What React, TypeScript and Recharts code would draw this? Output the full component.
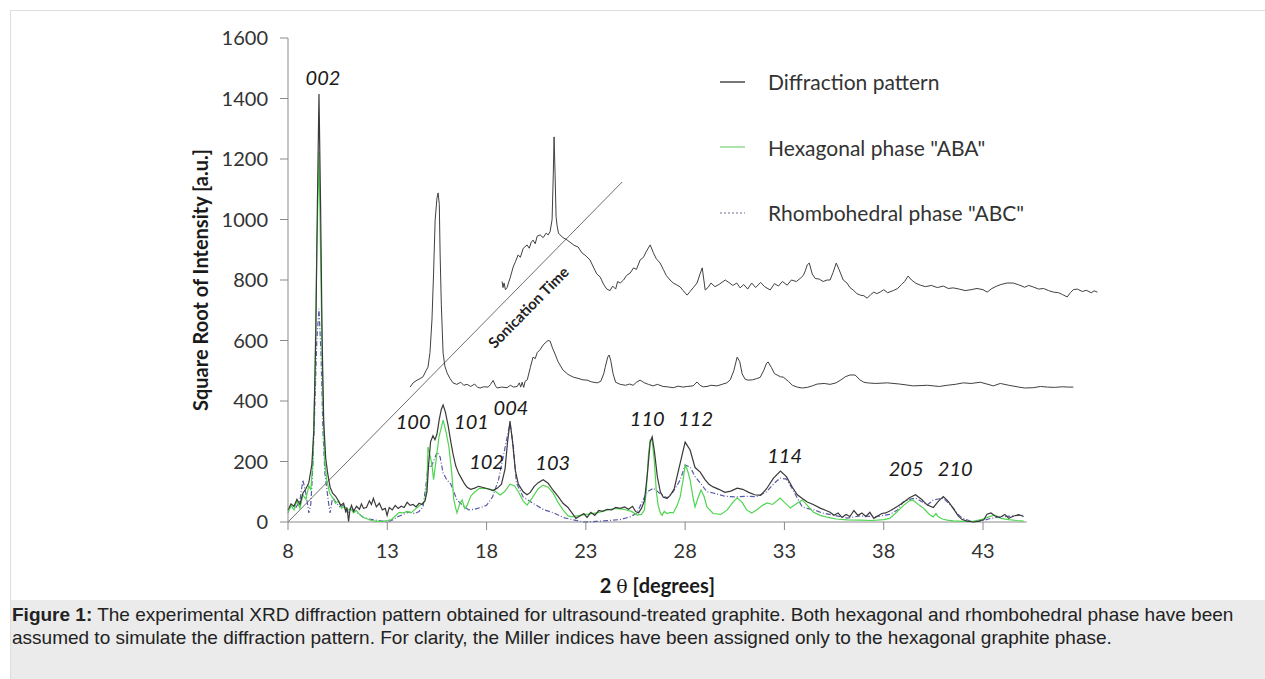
import React from 'react';
import { ComposedChart, Line, XAxis, YAxis, ReferenceLine, ReferenceDot } from 'recharts';

const FONT = 'Lato, "Open Sans", sans-serif';

// measured pattern of the treated graphite (2θ in degrees, sqrt intensity)
const patternTheta = [8.0, 8.15, 8.3, 8.45, 8.6, 8.75, 8.9, 9.05, 9.2, 9.3, 9.4, 9.48, 9.56, 9.64, 9.72, 9.8, 9.9, 10.0, 10.12, 10.25, 10.4, 10.52, 10.65, 10.8, 10.9, 10.97, 11.05, 11.12, 11.2, 11.3, 11.45, 11.6, 11.7, 11.8, 11.95, 12.1, 12.2, 12.3, 12.45, 12.6, 12.75, 12.9, 12.99, 13.1, 13.25, 13.4, 13.55, 13.7, 13.85, 14.0, 14.15, 14.3, 14.45, 14.6, 14.75, 14.9, 15.0, 15.08, 15.18, 15.3, 15.4, 15.5, 15.62, 15.72, 15.81, 15.92, 16.06, 16.2, 16.31, 16.45, 16.6, 16.77, 16.9, 17.02, 17.2, 17.4, 17.6, 17.82, 18.05, 18.33, 18.55, 18.75, 18.93, 19.05, 19.18, 19.3, 19.45, 19.6, 19.84, 20.04, 20.2, 20.4, 20.6, 20.85, 21.1, 21.35, 21.6, 21.85, 22.1, 22.3, 22.5, 22.7, 22.9, 23.06, 23.25, 23.45, 23.65, 23.85, 24.07, 24.3, 24.5, 24.73, 24.95, 25.15, 25.35, 25.5, 25.65, 25.8, 25.95, 26.1, 26.24, 26.34, 26.45, 26.6, 26.75, 26.9, 27.09, 27.25, 27.45, 27.75, 28.0, 28.25, 28.5, 28.76, 29.0, 29.2, 29.41, 29.7, 30.0, 30.3, 30.62, 30.9, 31.2, 31.5, 31.8, 32.1, 32.45, 32.8, 33.1, 33.4, 33.65, 33.9, 34.15, 34.45, 34.8, 35.1, 35.3, 35.5, 35.7, 35.9, 36.1, 36.3, 36.5, 36.7, 36.9, 37.1, 37.3, 37.5, 37.7, 37.9, 38.1, 38.35, 38.7, 39.0, 39.3, 39.6, 39.9, 40.2, 40.5, 40.75, 41.0, 41.25, 41.5, 41.75, 41.95, 42.2, 42.5, 42.8, 43.05, 43.2, 43.4, 43.6, 43.85, 44.1, 44.3, 44.55, 44.8, 45.05];
const patternInt = [40, 60, 52, 75, 58, 95, 110, 130, 190, 300, 620, 1050, 1415, 1050, 600, 330, 210, 160, 115, 95, 85, 72, 55, 62, 35, 48, 2, 40, 55, 35, 52, 42, 60, 45, 48, 70, 58, 78, 50, 62, 40, 45, 22, 48, 40, 55, 45, 52, 48, 65, 55, 58, 50, 62, 58, 70, 100, 190, 265, 285, 272, 290, 340, 372, 387, 365, 320, 265, 225, 185, 160, 140, 125, 115, 108, 112, 118, 114, 110, 104, 112, 125, 175, 260, 334, 270, 170, 125, 100, 90, 98, 118, 130, 140, 128, 105, 85, 62, 48, 30, 12, 20, 28, 15, 32, 22, 38, 35, 42, 40, 48, 45, 50, 42, 52, 35, 30, 45, 70, 160, 265, 282, 235, 150, 100, 82, 78, 88, 110, 195, 264, 238, 180, 165, 140, 125, 116, 108, 98, 102, 112, 108, 98, 90, 88, 110, 145, 168, 150, 115, 90, 78, 66, 58, 46, 38, 32, 22, 30, 15, 25, 18, 38, 22, 30, 18, 32, 12, 20, 28, 30, 38, 52, 65, 80, 90, 75, 56, 48, 68, 84, 68, 45, 20, 8, 3, 0, 3, 8, 26, 30, 20, 15, 25, 12, 20, 24, 18];

// hexagonal "ABA" simulation
const hexTheta = [8.0, 8.15, 8.3, 8.45, 8.6, 8.75, 8.9, 9.05, 9.15, 9.25, 9.35, 9.45, 9.56, 9.65, 9.75, 9.85, 9.95, 10.1, 10.25, 10.4, 10.55, 10.7, 10.85, 11.0, 11.15, 11.3, 11.45, 11.6, 11.8, 12.0, 12.2, 12.4, 12.6, 12.8, 13.0, 13.2, 13.4, 13.6, 13.8, 14.0, 14.2, 14.45, 14.7, 14.9, 15.0, 15.05, 15.15, 15.25, 15.33, 15.45, 15.6, 15.81, 15.95, 16.1, 16.25, 16.35, 16.45, 16.51, 16.65, 16.77, 16.9, 17.02, 17.2, 17.35, 17.6, 17.9, 18.2, 18.4, 18.68, 18.9, 19.18, 19.4, 19.6, 19.84, 20.04, 20.3, 20.6, 20.85, 21.1, 21.35, 21.6, 21.85, 22.1, 22.3, 22.7, 23.0, 23.57, 24.1, 24.5, 24.9, 25.3, 25.58, 25.8, 25.95, 26.05, 26.15, 26.24, 26.34, 26.45, 26.55, 26.64, 26.75, 26.84, 26.95, 27.09, 27.25, 27.4, 27.6, 27.75, 27.9, 28.0, 28.1, 28.25, 28.4, 28.5, 28.65, 28.8, 28.95, 29.1, 29.41, 29.8, 30.12, 30.4, 30.62, 30.87, 31.1, 31.35, 31.6, 31.9, 32.13, 32.4, 32.79, 33.0, 33.3, 33.6, 33.9, 34.15, 34.45, 34.8, 35.2, 35.6, 36.16, 36.8, 37.4, 38.0, 38.3, 38.66, 39.0, 39.3, 39.46, 39.8, 40.0, 40.3, 40.49, 40.63, 40.75, 40.95, 41.2, 41.5, 42.0, 42.5, 43.0, 43.3, 43.6, 43.9, 44.3, 44.7, 45.05];
const hexInt = [30, 55, 40, 70, 45, 90, 75, 120, 105, 200, 450, 900, 1225, 850, 420, 200, 140, 95, 80, 62, 70, 45, 52, 38, 45, 30, 38, 25, 15, 10, 5, 3, 2, 3, 5, 8, 20, 32, 30, 35, 30, 45, 58, 70, 130, 248, 220, 190, 140, 200, 280, 337, 300, 250, 160, 73, 45, 30, 60, 73, 45, 55, 85, 96, 110, 112, 108, 104, 89, 100, 125, 120, 100, 70, 56, 80, 110, 122, 115, 96, 65, 40, 20, 17, 22, 25, 30, 40, 45, 42, 35, 23, 25, 40, 110, 220, 271, 268, 200, 100, 55, 30, 22, 35, 28, 32, 30, 55, 83, 140, 188, 175, 139, 80, 50, 80, 106, 85, 50, 28, 25, 40, 65, 80, 65, 40, 30, 40, 55, 63, 58, 79, 65, 46, 60, 73, 55, 33, 22, 15, 10, 7, 6, 5, 8, 12, 33, 55, 70, 73, 55, 46, 25, 17, 28, 17, 10, 6, 4, 2, 2, 10, 17, 23, 12, 8, 5, 3];

// rhombohedral "ABC" simulation
const rhombTheta = [8.0, 8.2, 8.4, 8.6, 8.75, 8.9, 9.05, 9.15, 9.25, 9.35, 9.45, 9.56, 9.66, 9.76, 9.86, 9.96, 10.05, 10.12, 10.25, 10.4, 10.6, 10.8, 11.0, 11.2, 11.4, 11.6, 11.8, 12.1, 12.5, 12.99, 13.3, 13.5, 13.8, 14.1, 14.4, 14.6, 14.8, 15.0, 15.05, 15.2, 15.35, 15.51, 15.66, 15.81, 16.0, 16.2, 16.51, 16.8, 17.1, 17.4, 17.7, 18.0, 18.3, 18.6, 18.85, 19.18, 19.35, 19.5, 19.84, 20.3, 20.9, 21.4, 21.85, 22.36, 22.9, 23.5, 24.2, 24.73, 25.23, 25.58, 25.88, 26.1, 26.4, 26.7, 27.09, 27.4, 27.75, 28.0, 28.25, 28.5, 28.76, 29.1, 29.41, 30.0, 30.6, 31.1, 31.6, 32.1, 32.5, 32.79, 33.1, 33.4, 33.64, 33.9, 34.15, 34.5, 34.9, 35.46, 36.16, 36.8, 37.6, 38.3, 38.7, 38.98, 39.3, 39.6, 39.9, 40.19, 40.5, 40.75, 41.0, 41.3, 41.5, 41.75, 41.95, 42.5, 43.0, 43.4, 43.9, 44.5, 45.0];
const rhombInt = [40, 55, 48, 70, 139, 95, 30, 60, 180, 380, 600, 705, 560, 300, 160, 106, 60, 30, 83, 65, 50, 55, 30, 45, 35, 25, 15, 10, 5, 0, 8, 17, 25, 33, 28, 35, 50, 149, 195, 180, 205, 231, 215, 162, 139, 125, 73, 55, 40, 42, 48, 55, 83, 139, 220, 327, 250, 129, 83, 63, 40, 30, 15, 7, 0, 2, 5, 8, 17, 30, 73, 100, 112, 96, 79, 100, 139, 188, 182, 150, 129, 100, 96, 85, 83, 85, 84, 100, 129, 145, 142, 110, 80, 50, 45, 40, 30, 23, 13, 20, 18, 25, 40, 66, 75, 79, 68, 56, 73, 76, 79, 60, 46, 25, 13, 0, 5, 12, 17, 20, 23];

// patterns after longer sonication, drawn shifted along the time arrow
const midTheta = [14.15, 14.3, 14.5, 14.65, 14.8, 14.95, 15.05, 15.15, 15.25, 15.33, 15.41, 15.5, 15.56, 15.62, 15.66, 15.72, 15.81, 15.9, 16.01, 16.15, 16.31, 16.5, 16.7, 16.85, 17.02, 17.2, 17.4, 17.55, 17.67, 17.85, 18.08, 18.2, 18.33, 18.45, 18.53, 18.75, 19.03, 19.2, 19.35, 19.54, 19.65, 19.72, 19.79, 19.87, 19.94, 20.05, 20.2, 20.34, 20.45, 20.55, 20.7, 20.85, 20.95, 21.1, 21.2, 21.32, 21.45, 21.6, 21.85, 22.1, 22.36, 22.6, 22.85, 23.06, 23.3, 23.57, 23.75, 23.9, 23.97, 24.1, 24.17, 24.25, 24.37, 24.5, 24.73, 25.0, 25.2, 25.38, 25.55, 25.73, 25.95, 26.15, 26.39, 26.6, 26.89, 27.1, 27.4, 27.65, 27.9, 28.1, 28.4, 28.6, 28.75, 28.91, 29.1, 29.3, 29.61, 29.9, 30.1, 30.27, 30.45, 30.62, 30.75, 30.87, 31.02, 31.17, 31.4, 31.6, 31.78, 31.95, 32.1, 32.18, 32.35, 32.5, 32.63, 32.8, 32.94, 33.2, 33.4, 33.64, 33.9, 34.15, 34.4, 34.65, 35.0, 35.3, 35.6, 35.85, 36.06, 36.3, 36.56, 36.8, 37.0, 37.17, 37.6, 38.18, 38.8, 39.49, 40.2, 40.8, 41.2, 41.6, 42.01, 42.4, 42.86, 43.2, 43.52, 43.87, 44.3, 44.8, 45.1, 45.53, 45.9, 46.24, 46.6, 47.0, 47.3, 47.55];
const midInt = [446, 460, 469, 474, 480, 500, 512, 560, 668, 820, 998, 1070, 1088, 1050, 889, 720, 559, 515, 493, 475, 460, 455, 462, 452, 455, 448, 456, 445, 443, 447, 446, 455, 468, 450, 443, 446, 444, 452, 446, 448, 460, 446, 462, 445, 465, 470, 510, 545, 540, 560, 570, 585, 592, 600, 598, 575, 555, 530, 502, 488, 479, 475, 470, 469, 463, 460, 465, 490, 510, 545, 552, 535, 490, 462, 455, 452, 456, 452, 462, 469, 460, 455, 450, 455, 448, 447, 444, 449, 446, 448, 450, 463, 452, 447, 448, 452, 450, 456, 460, 470, 500, 545, 530, 490, 472, 469, 470, 474, 478, 500, 525, 529, 510, 490, 486, 480, 479, 465, 452, 446, 443, 445, 450, 456, 458, 455, 460, 470, 480, 486, 486, 470, 462, 460, 458, 460, 456, 450, 452, 448, 452, 455, 460, 458, 462, 456, 450, 458, 452, 446, 443, 444, 448, 446, 445, 447, 446, 446];

const topTheta = [18.78, 18.83, 18.88, 18.95, 19.03, 19.2, 19.34, 19.45, 19.59, 19.7, 19.85, 20.04, 20.15, 20.25, 20.34, 20.45, 20.55, 20.7, 20.85, 21.0, 21.1, 21.2, 21.3, 21.36, 21.4, 21.45, 21.5, 21.55, 21.62, 21.7, 21.85, 22.06, 22.2, 22.4, 22.61, 22.8, 23.0, 23.21, 23.4, 23.55, 23.72, 23.9, 24.05, 24.22, 24.35, 24.5, 24.6, 24.73, 24.9, 25.05, 25.23, 25.4, 25.55, 25.73, 25.9, 26.05, 26.24, 26.4, 26.55, 26.74, 26.9, 27.05, 27.24, 27.4, 27.55, 27.75, 27.9, 28.1, 28.25, 28.4, 28.6, 28.75, 28.86, 29.01, 29.15, 29.3, 29.5, 29.7, 30.02, 30.2, 30.4, 30.6, 30.77, 30.95, 31.15, 31.35, 31.55, 31.8, 32.0, 32.28, 32.5, 32.7, 32.9, 33.14, 33.35, 33.6, 33.79, 33.95, 34.05, 34.15, 34.25, 34.4, 34.55, 34.75, 34.95, 35.15, 35.3, 35.45, 35.61, 35.75, 35.96, 36.15, 36.3, 36.46, 36.65, 36.82, 37.0, 37.17, 37.35, 37.5, 37.65, 37.82, 38.0, 38.2, 38.48, 38.7, 38.9, 39.05, 39.23, 39.4, 39.6, 39.84, 40.1, 40.4, 40.7, 41.0, 41.25, 41.5, 41.8, 42.1, 42.4, 42.7, 43.0, 43.21, 43.45, 43.7, 43.9, 44.2, 44.52, 44.8, 45.1, 45.3, 45.53, 45.8, 46.05, 46.3, 46.54, 46.8, 47.0, 47.24, 47.4, 47.55, 47.75, 48.0, 48.2, 48.45, 48.6, 48.76];
const topInt = [795, 775, 790, 768, 775, 810, 843, 860, 883, 875, 905, 916, 905, 925, 932, 920, 945, 949, 940, 955, 949, 960, 1000, 1150, 1273, 1150, 1010, 980, 955, 949, 940, 932, 925, 915, 909, 890, 880, 866, 840, 820, 810, 785, 770, 765, 780, 770, 795, 790, 800, 815, 823, 840, 835, 866, 875, 895, 916, 890, 870, 856, 835, 815, 800, 790, 785, 777, 765, 750, 762, 774, 790, 820, 840, 767, 775, 790, 778, 785, 800, 792, 782, 790, 774, 785, 770, 790, 775, 792, 778, 767, 788, 780, 795, 783, 800, 795, 805, 815, 830, 850, 856, 820, 805, 803, 795, 800, 800, 825, 856, 835, 800, 790, 775, 767, 755, 750, 748, 740, 752, 760, 755, 760, 768, 758, 765, 772, 785, 795, 813, 800, 790, 783, 778, 782, 775, 780, 772, 774, 770, 765, 768, 772, 768, 760, 772, 780, 785, 790, 790, 784, 776, 782, 777, 770, 772, 765, 760, 758, 752, 744, 758, 768, 770, 762, 766, 758, 764, 760];

// Miller indices of the hexagonal phase, placed above their reflections
const millerLabels = ['002', '100', '101', '004', '102', '103', '110', '112', '114', '205', '210'];
const millerTheta = [9.76, 14.3, 17.24, 19.23, 18.0, 21.33, 26.09, 28.53, 33.01, 39.13, 41.6];
const millerInt = [1471, 334, 334, 380, 202, 198, 345, 345, 223, 178, 178];

const xTicks = [8, 13, 18, 23, 28, 33, 38, 43];
const yTicks = [0, 200, 400, 600, 800, 1000, 1200, 1400, 1600];
const xMin = 8;
const xMax = 50;
const axisEnd = 45.2;

// sonication-time arrow from the origin up through the shifted patterns
const timeArrowTheta = [8, 24.83];
const timeArrowInt = [0, 1124];

const legendItems = [
  { name: 'Diffraction pattern', color: '#4a4a4a', dash: undefined },
  { name: 'Hexagonal phase "ABA"', color: '#8fdc8f', dash: undefined },
  { name: 'Rhombohedral phase "ABC"', color: '#a0a0b8', dash: '2 2' },
];

const toPoints = (xs: number[], ys: number[]) => xs.map((x, i) => ({ x, y: ys[i] }));

const pattern = toPoints(patternTheta, patternInt);
const hexagonal = toPoints(hexTheta, hexInt);
const rhombohedral = toPoints(rhombTheta, rhombInt);
const midPattern = toPoints(midTheta, midInt);
const topPattern = toPoints(topTheta, topInt);

const AXIS = '#8a8a8a';

// legend sits in the free space right of the 002 peak, outside the chart layout
function LegendBox() {
  return (
    <div style={{ position: 'absolute', left: 720, top: 49, fontFamily: FONT, fontSize: 21, color: '#333' }}>
      {legendItems.map(it => (
        <div key={it.name} style={{ display: 'flex', alignItems: 'center', height: 65.5, whiteSpace: 'nowrap' }}>
          <svg width={48} height={10}>
            <line x1={0} y1={5} x2={25} y2={5} stroke={it.color} strokeWidth={1.5} strokeDasharray={it.dash} />
          </svg>
          <span>{it.name}</span>
        </div>
      ))}
    </div>
  );
}

function XTitle(props: any) {
  const { x, y, width } = props.viewBox;
  const cx = x + ((xMin + axisEnd) / 2 - xMin) / (xMax - xMin) * width;
  return (
    <text x={cx} y={y + 71} textAnchor="middle" fontFamily={FONT} fontSize={20} fill="#1a1a1a">
      <tspan fontWeight={700}>2 </tspan>
      <tspan fontFamily='"DejaVu Serif", serif' fontSize={19}>θ</tspan>
      <tspan fontWeight={700}> [degrees]</tspan>
    </text>
  );
}

export default function App() {
  return (
    <div style={{ position: 'absolute', left: 0, top: 0, width: 1265, height: 679, background: '#fff', overflow: 'hidden' }}>
      <div style={{ position: 'absolute', left: 10, top: 10, right: 0, bottom: 0, borderLeft: '1px solid #dedede', borderTop: '1px solid #dedede' }} />
      <div style={{ position: 'absolute', left: 0, top: 0 }}>
        <ComposedChart width={1265} height={600} margin={{ top: 38, right: 143, bottom: 0, left: 188 }}>
          <XAxis
            type="number"
            dataKey="x"
            domain={[xMin, xMax]}
            ticks={xTicks}
            axisLine={false}
            tickLine={{ stroke: AXIS }}
            tickSize={8}
            tickMargin={14}
            height={78}
            tick={{ fontFamily: FONT, fontSize: 20, fill: '#333' }}
            label={{ content: XTitle }}
          />
          <YAxis
            type="number"
            domain={[0, 1600]}
            ticks={yTicks}
            width={100}
            axisLine={{ stroke: AXIS }}
            tickLine={{ stroke: AXIS }}
            tickSize={8}
            tickMargin={12}
            tick={{ fontFamily: FONT, fontSize: 20, fill: '#333' }}
            label={{
              value: 'Square Root of Intensity [a.u.]',
              angle: -90,
              position: 'insideLeft',
              offset: 13,
              style: { textAnchor: 'middle', fontFamily: FONT, fontSize: 20, fontWeight: 700, fill: '#1a1a1a' },
            }}
          />
          <ReferenceLine segment={[{ x: xMin, y: 0 }, { x: axisEnd, y: 0 }]} stroke={AXIS} ifOverflow="visible" />
          <ReferenceLine
            segment={[{ x: timeArrowTheta[0], y: timeArrowInt[0] }, { x: timeArrowTheta[1], y: timeArrowInt[1] }]}
            stroke="#6e6e6e"
            strokeWidth={1}
          />
          <ReferenceDot
            x={20.09}
            y={711}
            shape={(p: any) => (
              <text
                x={p.cx}
                y={p.cy}
                transform={`rotate(-45.5 ${p.cx} ${p.cy})`}
                textAnchor="middle"
                dominantBaseline="central"
                fontFamily={FONT}
                fontWeight={700}
                fontSize={15}
                fill="#222"
              >
                Sonication Time
              </text>
            )}
          />
          <Line data={topPattern} dataKey="y" type="linear" stroke="#404040" strokeWidth={1} dot={false} isAnimationActive={false} />
          <Line data={midPattern} dataKey="y" type="linear" stroke="#404040" strokeWidth={1} dot={false} isAnimationActive={false} />
          <Line data={rhombohedral} dataKey="y" type="linear" stroke="#5a5aa8" strokeWidth={1.2} strokeDasharray="5 2 1 2" dot={false} isAnimationActive={false} />
          <Line data={hexagonal} dataKey="y" type="linear" stroke="#4fd64f" strokeWidth={1.2} dot={false} isAnimationActive={false} />
          <Line data={pattern} dataKey="y" type="linear" stroke="#3a3a3a" strokeWidth={1.2} dot={false} isAnimationActive={false} />
          {millerLabels.map((lab, i) => (
            <ReferenceDot
              key={lab}
              x={millerTheta[i]}
              y={millerInt[i]}
              shape={(p: any) => (
                <text
                  x={p.cx}
                  y={p.cy}
                  textAnchor="middle"
                  dominantBaseline="central"
                  fontFamily={FONT}
                  fontStyle="italic"
                  fontSize={20}
                  fill="#1a1a1a"
                >
                  {lab}
                </text>
              )}
            />
          ))}
        </ComposedChart>
      </div>
      <LegendBox />
      <div
        style={{
          position: 'absolute', left: 11, top: 600, right: 0, bottom: 0, background: '#ebebeb',
          fontFamily: '"Liberation Sans", Arial, sans-serif', fontSize: 19, color: '#222', lineHeight: '23px',
          padding: '3px 0 0 1px', whiteSpace: 'nowrap',
        }}
      >
        <div><b>Figure 1:</b> The experimental XRD diffraction pattern obtained for ultrasound-treated graphite. Both hexagonal and rhombohedral phase have been</div>
        <div>assumed to simulate the diffraction pattern. For clarity, the Miller indices have been assigned only to the hexagonal graphite phase.</div>
      </div>
    </div>
  );
}
